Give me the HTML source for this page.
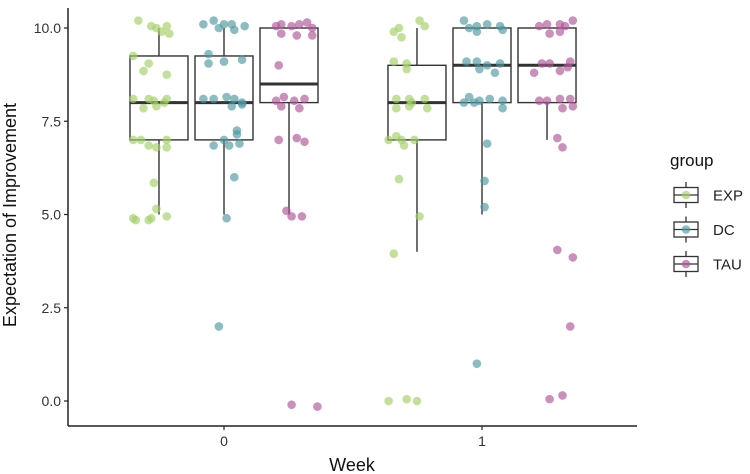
<!DOCTYPE html>
<html><head><meta charset="utf-8"><style>
html,body{margin:0;padding:0;background:#fff;}
svg{display:block;font-family:"Liberation Sans",Arial,sans-serif;}
</style></head><body>
<svg id="chart" width="750" height="474" viewBox="0 0 750 474"></svg>
<script>
const weeks = [0, 1];
const groups = ["EXP", "DC", "TAU"];
const colors = ["#a3cf66", "#4d98a0", "#ae5597"];
const yTicks = [0, 2.5, 5, 7.5, 10];
const yTickLabels = ["0.0", "2.5", "5.0", "7.5", "10.0"];
// box stats per [week][group]: lo, q1, median, q3, hi
const boxLo  = [[5, 5, 5], [4, 5, 7]];
const boxQ1  = [[7, 7, 8], [7, 8, 8]];
const boxMed = [[8, 8, 8.5], [8, 9, 9]];
const boxQ3  = [[9.25, 9.25, 10], [9, 10, 10]];
const boxHi  = [[10, 10, 10], [10, 10, 10]];
// points: [value, jitter in week units]
const ptsEXP0 = [[10.2,-0.08],[10.05,-0.03],[10,-0.01],[9.9,0.01],[10.05,0.03],[9.85,0.04],[9.25,-0.1],[9.05,-0.04],[8.85,-0.06],[8.75,0.03],[8.1,-0.1],[8.1,-0.04],[8.05,-0.02],[8.1,0.03],[7.85,-0.06],[7.9,-0.01],[8,0.02],[7,-0.1],[7,-0.07],[6.85,-0.04],[6.8,-0.01],[7,0.03],[6.8,0.03],[5.85,-0.02],[5.15,-0.01],[4.9,-0.1],[4.85,-0.09],[4.85,-0.04],[4.9,-0.03],[4.95,0.03]];
const ptsDC0 = [[10.1,-0.08],[10.2,-0.04],[10,-0.02],[10.1,0],[10.1,0.03],[9.95,0.04],[10.05,0.08],[9.3,-0.06],[9.05,-0.06],[9.1,0],[9.15,0.07],[8.1,-0.08],[8.1,-0.04],[8.15,0.01],[8.1,0.04],[7.9,0.03],[7.95,0.07],[8,0.07],[7.25,0.05],[7.15,0.05],[6.85,-0.04],[7,0],[6.85,0.02],[6.9,0.06],[6,0.04],[4.9,0.01],[2,-0.02]];
const ptsTAU0 = [[10.05,-0.05],[10.1,-0.03],[10.05,0.01],[10.1,0.04],[10.15,0.07],[10,0.09],[9.8,0.03],[9.8,0.09],[9.85,-0.03],[9,-0.04],[8.05,-0.05],[8.15,-0.02],[8.05,0.02],[8.1,0.06],[7.9,-0.03],[7.85,0.04],[7,-0.04],[7.05,0.03],[6.95,0.06],[5.1,-0.01],[4.95,0.01],[4.95,0.05],[-0.1,0.01],[-0.15,0.11]];
const ptsEXP1 = [[9.9,-0.09],[10,-0.07],[9.75,-0.06],[10.2,0.01],[10.05,0.03],[9.1,-0.09],[9.05,-0.04],[8.9,-0.04],[8.1,-0.08],[8.1,-0.03],[8,-0.02],[8.1,0.03],[7.85,-0.08],[7.9,-0.03],[7.85,0.04],[7,-0.11],[7.1,-0.08],[7,-0.06],[6.85,-0.05],[7,-0.01],[5.95,-0.07],[4.95,0.01],[3.95,-0.09],[0,-0.11],[0.05,-0.04],[0,0]];
const ptsDC1 = [[10.2,-0.07],[10,-0.05],[9.9,-0.02],[10.1,0.02],[10.05,0.07],[9.95,0.08],[10.05,-0.02],[9.1,-0.06],[9.1,-0.02],[8.9,-0.01],[9,0.02],[8.8,0.05],[9.05,0.07],[8,-0.07],[8.15,-0.05],[8,-0.03],[8.05,-0.01],[8.1,0.03],[8.05,0.08],[7.85,0.08],[6.9,0.02],[5.9,0.01],[5.2,0.01],[1,-0.02]];
const ptsTAU1 = [[10.05,-0.03],[10.1,0],[10.1,0.05],[10.05,0.07],[10.2,0.1],[9.85,0.01],[9.9,0.05],[9.05,-0.02],[9.05,0.01],[8.8,-0.05],[8.85,0.05],[9.1,0.09],[8.95,0.08],[8.05,-0.03],[8.05,0],[8.1,0.05],[8.1,0.09],[7.85,0.06],[7.9,0.1],[7.05,0.04],[6.8,0.06],[4.05,0.04],[3.85,0.1],[2,0.09],[0.05,0.01],[0.15,0.06]];
const points = [[ptsEXP0, ptsDC0, ptsTAU0], [ptsEXP1, ptsDC1, ptsTAU1]];

const NS = "http://www.w3.org/2000/svg";
const svg = document.getElementById("chart");
const L = 68, R = 637, T = 8, B = 426;
const x = w => 224 + w * 258;
const y = v => 401 - v * 37.3;
const dodge = 0.252, boxHalf = 29;
function mk(tag, attrs, parent) {
  const e = document.createElementNS(NS, tag);
  for (const k in attrs) e.setAttribute(k, attrs[k]);
  (parent || svg).appendChild(e);
  return e;
}
// axes
const ax = mk("g", {});


mk("line", {x1: L, y1: T, x2: L, y2: B, stroke: "#222", "stroke-width": 1.5}, ax);
mk("line", {x1: L, y1: B, x2: R, y2: B, stroke: "#222", "stroke-width": 1.5}, ax);
yTicks.forEach((t, i) => {
  mk("line", {x1: L - 4, y1: y(t), x2: L, y2: y(t), stroke: "#222", "stroke-width": 1.2}, ax);
  const tx = mk("text", {x: L - 7, y: y(t) + 5, "text-anchor": "end", "font-size": 14, fill: "#333"}, ax);
  tx.textContent = yTickLabels[i];
  
  
});
weeks.forEach(w => {
  mk("line", {x1: x(w), y1: B, x2: x(w), y2: B + 4, stroke: "#222", "stroke-width": 1.2}, ax);
  const tx = mk("text", {x: x(w), y: B + 20, "text-anchor": "middle", "font-size": 14, fill: "#333"}, ax);
  tx.textContent = String(w);
  
  
});
const xt = mk("text", {x: 352, y: 471, "text-anchor": "middle", "font-size": 18, fill: "#111"});
xt.textContent = "Week";


const yt = mk("text", {x: 0, y: 0, transform: "translate(16,215) rotate(-90)", "text-anchor": "middle", "font-size": 18, fill: "#111"});
yt.textContent = "Expectation of Improvement";


// boxes
weeks.forEach((w, wi) => {
  groups.forEach((g, gi) => {
    const cx = x(w + (gi - 1) * dodge);
    const bg = mk("g", {});
    
    
    mk("line", {x1: cx, y1: y(boxHi[wi][gi]), x2: cx, y2: y(boxQ3[wi][gi]), stroke: "#333", "stroke-width": 1.4}, bg);
    mk("line", {x1: cx, y1: y(boxQ1[wi][gi]), x2: cx, y2: y(boxLo[wi][gi]), stroke: "#333", "stroke-width": 1.4}, bg);
    mk("rect", {x: cx - boxHalf, y: y(boxQ3[wi][gi]), width: boxHalf * 2, height: y(boxQ1[wi][gi]) - y(boxQ3[wi][gi]), fill: "none", stroke: "#333", "stroke-width": 1.4}, bg);
    mk("line", {x1: cx - boxHalf, y1: y(boxMed[wi][gi]), x2: cx + boxHalf, y2: y(boxMed[wi][gi]), stroke: "#333", "stroke-width": 3}, bg);
  });
});
// points
weeks.forEach((w, wi) => {
  groups.forEach((g, gi) => {
    points[wi][gi].forEach(p => {
      const c = mk("circle", {cx: x(w + (gi - 1) * dodge + p[1]), cy: y(p[0]), r: 4.3, fill: colors[gi], "fill-opacity": 0.65});
      
      
    });
  });
});
// legend
const lg = mk("g", {});


const lt = mk("text", {x: 670, y: 166, "font-size": 17, fill: "#111"}, lg);
lt.textContent = "group";


groups.forEach((g, gi) => {
  const cy = 195 + gi * 34.5;
  const e = mk("g", {}, lg);
  
  
  mk("line", {x1: 686, y1: cy - 13, x2: 686, y2: cy + 13, stroke: "#333", "stroke-width": 1.3}, e);
  mk("rect", {x: 674, y: cy - 7.5, width: 24, height: 15, fill: "#fff", stroke: "#333", "stroke-width": 1.3}, e);
  mk("line", {x1: 674, y1: cy, x2: 698, y2: cy, stroke: "#333", "stroke-width": 1.3}, e);
  mk("circle", {cx: 686, cy: cy, r: 4.3, fill: colors[gi], "fill-opacity": 0.65}, e);
  const t = mk("text", {x: 713, y: cy + 5.5, "font-size": 15, fill: "#222"}, e);
  t.textContent = g;
});
</script>
</body></html>
